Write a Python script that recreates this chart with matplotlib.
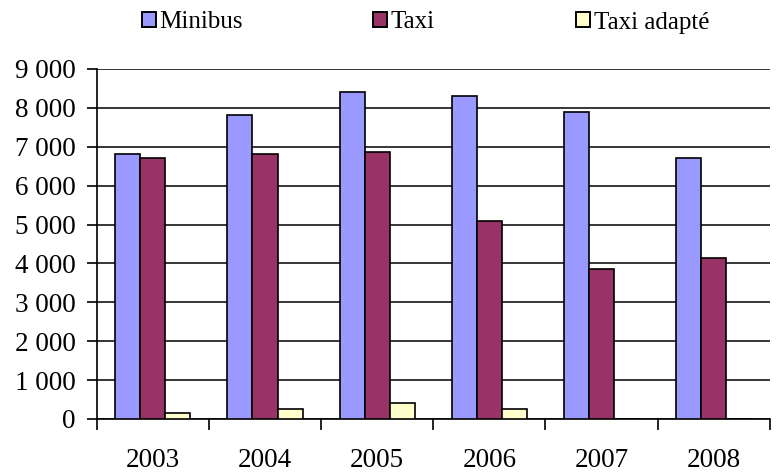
import numpy as np
import matplotlib.pyplot as plt
from matplotlib.patches import Patch
from matplotlib.ticker import FuncFormatter, FixedLocator

years = ['2003', '2004', '2005', '2006', '2007', '2008']
minibus = [6820, 7820, 8410, 8310, 7900, 6720]
taxi = [6720, 6820, 6870, 5080, 3850, 4150]
taxi_adapte = [150, 260, 410, 260, 0, 0]

series = [('Minibus', minibus, '#9999FF'),
          ('Taxi', taxi, '#993366'),
          ('Taxi adapté', taxi_adapte, '#FFFFCC')]

plt.rcParams['font.family'] = ['Liberation Serif', 'DejaVu Serif']

fig = plt.figure(figsize=(7.8, 4.73), dpi=100)
ax = fig.add_axes([0.124, 0.1142, 0.863, 0.7400])

x = np.arange(len(years))
w = 0.223
for i, (name, vals, col) in enumerate(series):
    ax.bar(x + (i - 1) * w, vals, w, color=col, edgecolor='black',
           linewidth=1.2, label=name, zorder=3)

ax.set_ylim(0, 9000)
ax.set_xlim(-0.5, len(years) - 0.5)
ax.set_yticks(range(0, 9001, 1000))
ax.yaxis.set_major_formatter(FuncFormatter(lambda v, p: f'{int(v):,}'.replace(',', ' ')))
ax.yaxis.grid(True, color='black', linewidth=1.1, zorder=0)

ax.set_xticks(x)
ax.set_xticklabels(years)
ax.tick_params(axis='x', which='major', length=0, pad=21, labelsize=19.5)
ax.xaxis.set_minor_locator(FixedLocator(np.arange(-0.5, len(years), 1.0)))
ax.tick_params(axis='x', which='minor', length=8, width=1.2, direction='out')
ax.tick_params(axis='y', length=7.2, width=1.2, direction='out', pad=8, labelsize=19.5)

for s in ['top', 'right']:
    ax.spines[s].set_visible(False)
for s in ['left', 'bottom']:
    ax.spines[s].set_linewidth(1.2)

# legend entries placed one by one, like the original
leg_x = [142, 373, 576]
for (name, vals, col), lx in zip(series, leg_x):
    h = Patch(facecolor=col, edgecolor='black', linewidth=1.4)
    fig.legend([h], [name], loc='center left', bbox_to_anchor=(lx / 780, 1 - 22.5 / 473),
               frameon=False, fontsize=18, handlelength=0.55, handleheight=0.55,
               handletextpad=0.15, borderpad=0, borderaxespad=0)

fig.savefig('out.png', dpi=100)
